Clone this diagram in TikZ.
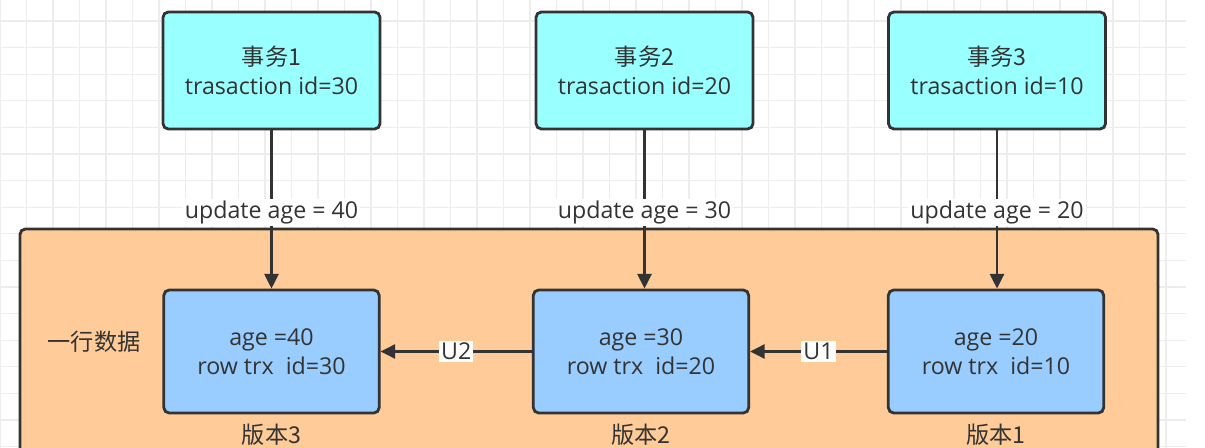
\documentclass[tikz,border=0pt]{standalone}
\usepackage{fontspec}
\setmainfont{Open Sans}
\newfontfamily\cjk{Noto Sans CJK SC}
\usetikzlibrary{arrows.meta,positioning}
\definecolor{ink}{HTML}{333333}
\definecolor{cyanfill}{HTML}{99FFFF}
\definecolor{bluefill}{HTML}{99CCFF}
\definecolor{orangefill}{HTML}{FFCC99}
\definecolor{gridline}{HTML}{EDEDED}

\begin{document}
\begin{tikzpicture}[
  x=0.75pt,y=-0.75pt,
  font=\fontsize{17.4}{22}\selectfont,text=ink,
  trx/.style={draw=ink,fill=cyanfill,line width=2.1pt,rounded corners=4pt,minimum width=162.75pt,minimum height=87.75pt,align=center},
  ver/.style={draw=ink,fill=bluefill,line width=2.1pt,rounded corners=4pt,minimum width=161.5pt,minimum height=92.25pt,align=center},
  rowbg/.style={draw=ink,fill=orangefill,line width=2.1pt,rounded corners=4pt,minimum width=853.5pt,minimum height=180.75pt},
  arr/.style={-{Triangle[length=11pt,width=10.5pt]},line width=2.1pt,draw=ink},
  lbl/.style={fill=white,inner sep=1.5pt}
]
\useasboundingbox (0,0) rectangle (1205,448);
\clip (0,0) rectangle (1205,448);
% grid
\foreach \x in {0,26.5,...,1187} \draw[gridline,line width=1pt] (\x,0) -- (\x,448);
\foreach \y in {21,47.6,...,448} \draw[gridline,line width=1pt] (0,\y) -- (1186,\y);

% one row of data
\node[rowbg] (row) at (589,349.5) {};
\node (rowname) at (94,342) {\cjk 一行数据};

% transactions
\node[trx] (t1) at (271.5,70.5) {{\cjk 事务1}\\trasaction id=30};
\node[trx] (t2) at (644.5,70.5) {{\cjk 事务2}\\trasaction id=20};
\node[trx] (t3) at (997,70.5) {{\cjk 事务3}\\trasaction id=10};

% versions
\node[ver] (v3) at (271.5,351.5) {age =40\\row trx\ \ id=30};
\node[ver] (v2) at (641,351.5) {age =30\\row trx\ \ id=20};
\node[ver] (v1) at (996,351.5) {age =20\\row trx\ \ id=10};
\node[below=3.5pt of v3] (n3) {\cjk 版本3};
\node[below=3.5pt of v2] (n2) {\cjk 版本2};
\node[below=3.5pt of v1] (n1) {\cjk 版本1};

\draw[arr] (t1.south) -- node[lbl,pos=0.52]{update age = 40} (t1.south |- v3.north);
\draw[arr] (t2.south) -- node[lbl,pos=0.52]{update age = 30} (t2.south |- v2.north);
\draw[arr] (t3.south) -- node[lbl,pos=0.52]{update age = 20} (t3.south |- v1.north);
\draw[arr] (v2.west) -- node[lbl]{U2} (v3.east);
\draw[arr] (v1.west) -- node[lbl]{U1} (v2.east);
\end{tikzpicture}
\end{document}
